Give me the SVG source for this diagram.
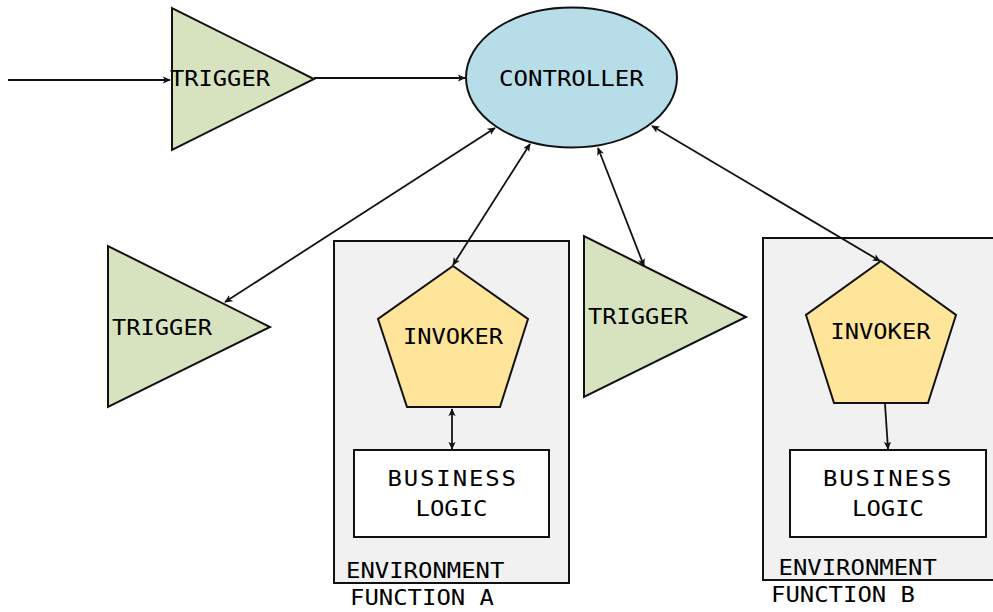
<svg xmlns="http://www.w3.org/2000/svg" width="993" height="612" viewBox="0 0 993 612">
  <style>
    .lbl { font-family: "DejaVu Sans Mono", "Liberation Mono", monospace; font-size: 21px; fill: #000; }
    .wide { letter-spacing: 1.65px; }
    .trigger { fill: #d7e3bf; stroke: #111; stroke-width: 2; stroke-linejoin: miter; }
    .invoker { fill: #ffe599; stroke: #111; stroke-width: 2; }
    .env { fill: #f1f1f1; stroke: #111; stroke-width: 2; }
    .logic { fill: #ffffff; stroke: #111; stroke-width: 2; }
    .ctrl { fill: #b7dde8; stroke: #111; stroke-width: 2; }
    .conn line { stroke: #111; stroke-width: 1.8; fill: none; }
  </style>
  <defs>
    <marker id="head" viewBox="0 0 10 10" refX="9" refY="5" markerWidth="8" markerHeight="8" markerUnits="userSpaceOnUse" orient="auto-start-reverse">
      <path d="M0,0.5 L10,5 L0,9.5 L2.5,5 z" fill="#111"/>
    </marker>
  </defs>

  <!-- environment boxes (drawn first so shapes sit on top) -->
  <g id="env-a">
    <rect class="env" x="334" y="241" width="235" height="342"/>
    <text class="lbl" transform="translate(346 578) scale(1.14 1)">ENVIRONMENT</text>
    <text class="lbl" transform="translate(350 605) scale(1.14 1)">FUNCTION A</text>
  </g>
  <g id="env-b">
    <rect class="env" x="763" y="238" width="234" height="342"/>
    <text class="lbl" transform="translate(778.5 575) scale(1.14 1)">ENVIRONMENT</text>
    <text class="lbl" transform="translate(771 602) scale(1.14 1)">FUNCTION B</text>
  </g>

  <g id="trigger-top">
    <polygon class="trigger" points="172,8 172,150 314,79"/>
    <text class="lbl" transform="translate(170 86) scale(1.13 1)">TRIGGER</text>
  </g>

  <g id="controller">
    <ellipse class="ctrl" cx="571.5" cy="77.5" rx="105.5" ry="70"/>
    <text class="lbl" transform="translate(499 86) scale(1.145 1)">CONTROLLER</text>
  </g>

  <g id="trigger-left">
    <polygon class="trigger" points="108,246 108,407 270,327"/>
    <text class="lbl" transform="translate(112 335) scale(1.13 1)">TRIGGER</text>
  </g>

  <g id="trigger-mid">
    <polygon class="trigger" points="584,236 584,397 746,317"/>
    <text class="lbl" transform="translate(588 324) scale(1.13 1)">TRIGGER</text>
  </g>

  <g id="invoker-a">
    <polygon class="invoker" points="453,266 528,319 500,407 407,407 378,319"/>
    <text class="lbl" transform="translate(403 344) scale(1.13 1)">INVOKER</text>
  </g>

  <g id="invoker-b">
    <polygon class="invoker" points="881,261 956,315 928,403 834,403 806,315"/>
    <text class="lbl" transform="translate(830.5 339) scale(1.13 1)">INVOKER</text>
  </g>

  <g id="logic-a">
    <rect class="logic" x="354" y="450" width="195" height="87"/>
    <text class="lbl wide" transform="translate(387.5 486) scale(1.14 1)">BUSINESS</text>
    <text class="lbl" transform="translate(415.5 516) scale(1.14 1)">LOGIC</text>
  </g>

  <g id="logic-b">
    <rect class="logic" x="790" y="450" width="196" height="87"/>
    <text class="lbl wide" transform="translate(823 486) scale(1.14 1)">BUSINESS</text>
    <text class="lbl" transform="translate(852 516) scale(1.14 1)">LOGIC</text>
  </g>

  <g id="connectors" class="conn">
    <line x1="8" y1="80" x2="170" y2="80" marker-end="url(#head)"/>
    <line x1="314" y1="78" x2="465" y2="78" marker-end="url(#head)"/>
    <line x1="495" y1="128" x2="225" y2="302" marker-start="url(#head)" marker-end="url(#head)"/>
    <line x1="530" y1="144" x2="453" y2="265" marker-start="url(#head)" marker-end="url(#head)"/>
    <line x1="598" y1="148" x2="644" y2="266" marker-start="url(#head)" marker-end="url(#head)"/>
    <line x1="652" y1="126" x2="880" y2="261" marker-start="url(#head)" marker-end="url(#head)"/>
    <line x1="452" y1="409" x2="452" y2="449" marker-start="url(#head)" marker-end="url(#head)"/>
    <line x1="885" y1="404" x2="888" y2="449" marker-end="url(#head)"/>
  </g>
</svg>
